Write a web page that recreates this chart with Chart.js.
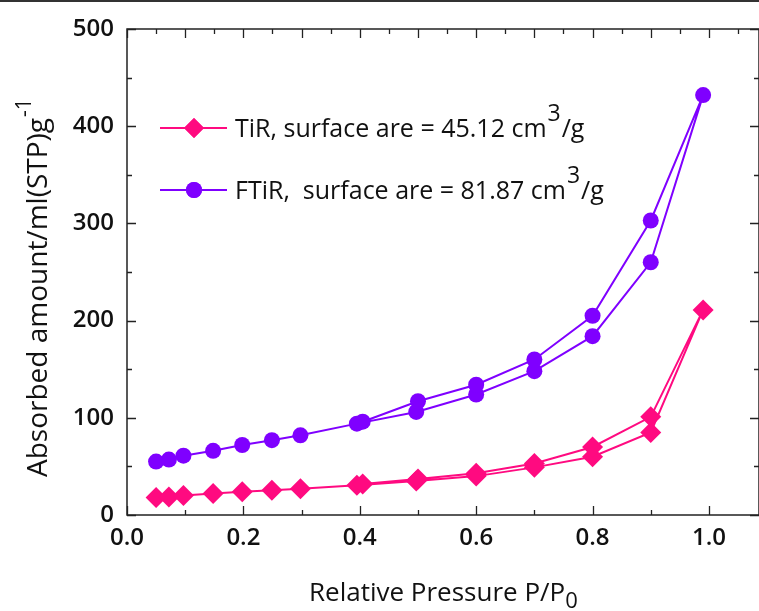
<!DOCTYPE html>
<html>
<head>
<meta charset="utf-8">
<script src="https://cdn.jsdelivr.net/npm/chart.js@4.4.0/dist/chart.umd.min.js"></script>
<style>
  html, body { margin: 0; padding: 0; background: #fff; overflow: hidden; }
</style>
</head>
<body>
<canvas id="isotherm" width="759" height="611"></canvas>
<script>
// relative pressure P/P0, adsorption branch then desorption branch
const adsorbP = [0.05, 0.072, 0.097, 0.148, 0.198, 0.249, 0.298, 0.395, 0.497, 0.6, 0.7, 0.8, 0.9, 0.99];
const desorbP = [0.9, 0.8, 0.7, 0.6, 0.5, 0.405];

// absorbed amount, ml(STP)/g
const tirAdsorb = [18, 18.5, 20, 22, 24, 25.5, 27, 30.5, 35, 40, 49, 60, 85, 211];
const tirDesorb = [101, 70, 53, 43, 37, 32];
const ftirAdsorb = [55, 57, 61, 66, 72, 77, 82, 94, 106, 124, 148, 184, 260, 432];
const ftirDesorb = [303, 205, 160, 134, 117, 96];

const seriesNames = ["TiR, surface are = 45.12 cm", "FTiR,  surface are = 81.87 cm"];
const xTickLabels = ["0.0", "0.2", "0.4", "0.6", "0.8", "1.0"];
const yTickLabels = ["0", "100", "200", "300", "400", "500"];

const PINK = "#FF0A80";
const PURPLE = "#7F00FF";
const INK = "#111";

function branch(ps, vals) {
  return ps.map((p, i) => ({ x: p, y: vals[i] }));
}

// draws text pieces one after another, with raised / lowered parts
function drawRich(ctx, parts, x, y) {
  let cx = x;
  parts.forEach((p) => {
    ctx.font = p.font;
    ctx.fillText(p.text, cx, y + (p.dy || 0));
    cx += ctx.measureText(p.text).width + (p.gap || 0);
  });
}

const framePlugin = {
  id: "frame",
  beforeDatasetsDraw(chart) {
    const { ctx, chartArea: a, scales: { x, y } } = chart;
    ctx.save();
    ctx.strokeStyle = "#222";
    ctx.lineWidth = 1.5;
    ctx.strokeRect(a.left, a.top, a.right - a.left, a.bottom - a.top);

    ctx.beginPath();
    // bottom: major every 0.2, minor every 0.1, pointing inward
    for (let i = 0; i <= 10; i++) {
      const px = Math.round(x.getPixelForValue(i / 10)) + 0.5;
      const len = i % 2 === 0 ? 9 : 5;
      ctx.moveTo(px, a.bottom);
      ctx.lineTo(px, a.bottom - len);
    }
    // top: major every 0.1, minor every 0.05
    for (let i = 0; i <= 21; i++) {
      const px = Math.round(x.getPixelForValue(i / 20)) + 0.5;
      const len = i % 2 === 0 ? 9 : 5;
      ctx.moveTo(px, a.top);
      ctx.lineTo(px, a.top + len);
    }
    // left and right: major every 100, minor every 50
    for (let v = 0; v <= 500; v += 50) {
      const py = Math.round(y.getPixelForValue(v)) + 0.5;
      const len = v % 100 === 0 ? 9 : 5;
      ctx.moveTo(a.left, py);
      ctx.lineTo(a.left + len, py);
      ctx.moveTo(a.right, py);
      ctx.lineTo(a.right - len, py);
    }
    ctx.lineWidth = 1.3;
    ctx.stroke();

    // figure border line at the very top
    ctx.fillStyle = "#333";
    ctx.fillRect(0, 0, chart.width, 2);
    ctx.restore();
  },
  afterDraw(chart) {
    const { ctx } = chart;
    ctx.save();
    ctx.fillStyle = INK;
    ctx.textAlign = "left";
    ctx.textBaseline = "alphabetic";

    // legend, inside the plot
    const rows = [
      { y: 128, color: PINK, style: "rectRot", r: 10, text: seriesNames[0] },
      { y: 190, color: PURPLE, style: "circle", r: 8, text: seriesNames[1] },
    ];
    rows.forEach((row) => {
      ctx.strokeStyle = row.color;
      ctx.lineWidth = 2;
      ctx.beginPath();
      ctx.moveTo(160, row.y);
      ctx.lineTo(227, row.y);
      ctx.stroke();
      ctx.fillStyle = row.color;
      Chart.helpers.drawPoint(ctx, { pointStyle: row.style, radius: row.r, rotation: 0, borderWidth: 0 }, 194, row.y);
      ctx.fill();
      ctx.fillStyle = INK;
      drawRich(ctx, [
        { text: row.text, font: "25px 'Open Sans'", gap: 1 },
        { text: "3", font: "23px 'Open Sans'", dy: -16, gap: 1 },
        { text: "/g", font: "25px 'Open Sans'" },
      ], 235, row.y + 9);
    });

    // y axis title, rotated
    ctx.save();
    ctx.translate(47, 477);
    ctx.rotate(-Math.PI / 2);
    drawRich(ctx, [
      { text: "Absorbed amount/ml(STP)g", font: "28px 'Open Sans'", gap: 1 },
      { text: "-1", font: "21px 'Open Sans'", dy: -16 },
    ], 0, 0);
    ctx.restore();

    // x axis title
    drawRich(ctx, [
      { text: "Relative Pressure P/P", font: "26px 'Open Sans'" },
      { text: "0", font: "22px 'Open Sans'", dy: 7 },
    ], 309, 601);

    ctx.restore();
  },
};

const datasets = [
  {
    label: seriesNames[0],
    data: branch(adsorbP, tirAdsorb).concat(branch(desorbP, tirDesorb)),
    borderColor: PINK,
    backgroundColor: PINK,
    pointStyle: "rectRot",
    pointRadius: 10.5,
    pointBorderWidth: 0,
  },
  {
    label: seriesNames[1],
    data: branch(adsorbP, ftirAdsorb).concat(branch(desorbP, ftirDesorb)),
    borderColor: PURPLE,
    backgroundColor: PURPLE,
    pointStyle: "circle",
    pointRadius: 8,
    pointBorderWidth: 0,
  },
];

new Chart(document.getElementById("isotherm").getContext("2d"), {
  type: "scatter",
  data: { datasets: datasets },
  options: {
    responsive: false,
    animation: false,
    devicePixelRatio: 1,
    layout: { autoPadding: false, padding: { top: 29, right: 0, left: 0, bottom: 0 } },
    elements: { line: { borderWidth: 2, tension: 0 } },
    datasets: { scatter: { showLine: true } },
    plugins: { legend: { display: false }, tooltip: { enabled: false } },
    scales: {
      x: {
        type: "linear",
        min: 0,
        max: 1.086,
        grid: { display: false, drawTicks: false },
        border: { display: false },
        afterFit: (scale) => {
          scale.height = 96;
          scale.paddingLeft = 0;
          scale.paddingRight = 0;
        },
        ticks: {
          stepSize: 0.2,
          includeBounds: false,
          padding: 9,
          color: INK,
          font: { family: "'Open Sans'", size: 24, weight: "600" },
          callback: (v) => xTickLabels[Math.round(v * 5)] ?? "",
        },
      },
      y: {
        type: "linear",
        min: 0,
        max: 500,
        grid: { display: false, drawTicks: false },
        border: { display: false },
        afterFit: (scale) => { scale.width = 127; },
        ticks: {
          stepSize: 100,
          padding: 13,
          color: INK,
          font: { family: "'Open Sans'", size: 24, weight: "600" },
          callback: (v) => yTickLabels[Math.round(v / 100)] ?? "",
        },
      },
    },
  },
  plugins: [framePlugin],
});
</script>
</body>
</html>
